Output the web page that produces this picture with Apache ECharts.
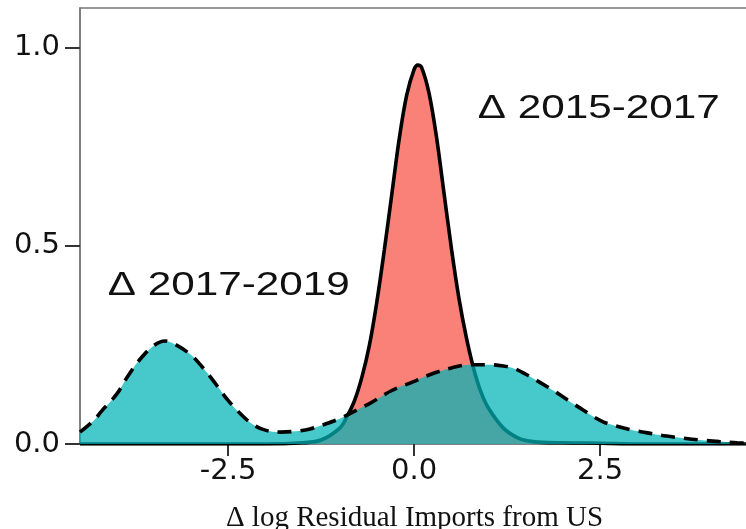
<!DOCTYPE html>
<html>
<head>
<meta charset="utf-8">
<script src="https://cdn.jsdelivr.net/npm/echarts@6/dist/echarts.min.js"></script>
<style>html,body{margin:0;padding:0;background:#fff;overflow:hidden}#c{width:746px;height:529px}</style>
</head>
<body>
<div id="c"></div>
<script>
// Density of Δ log residual imports, 2015-2017 (red)
const x1517 = [-4.49,-2.0,-1.5,-1.25,-1.0,-0.9,-0.8,-0.7,-0.6,-0.5,-0.4,-0.3,-0.2,-0.1,0.0,0.05,0.1,0.2,0.3,0.4,0.5,0.6,0.7,0.8,0.9,1.0,1.2,1.4,1.6,2.0,2.5,3.0,4.5];
const y1517 = [0.0,0.0,0.003,0.01,0.04,0.07,0.11,0.17,0.25,0.36,0.49,0.63,0.77,0.88,0.945,0.956,0.95,0.885,0.775,0.635,0.495,0.37,0.27,0.19,0.13,0.09,0.04,0.015,0.006,0.003,0.002,0.0,0.0];
// Density 2017-2019 (teal)
const x1719 = [-4.49,-4.3,-4.2,-4.0,-3.85,-3.7,-3.5,-3.35,-3.2,-3.0,-2.85,-2.7,-2.5,-2.3,-2.15,-2.0,-1.8,-1.6,-1.4,-1.2,-1.0,-0.85,-0.6,-0.3,0.0,0.2,0.5,0.75,1.0,1.2,1.35,1.5,1.65,1.8,1.96,2.1,2.27,2.4,2.54,2.7,2.94,3.2,3.39,3.6,3.84,4.1,4.34,4.5];
const y1719 = [0.03,0.06,0.083,0.125,0.17,0.21,0.248,0.26,0.25,0.225,0.195,0.16,0.11,0.07,0.047,0.035,0.03,0.032,0.038,0.05,0.064,0.078,0.102,0.135,0.158,0.174,0.192,0.2,0.2,0.197,0.19,0.176,0.16,0.143,0.124,0.106,0.086,0.07,0.056,0.046,0.035,0.026,0.02,0.015,0.01,0.006,0.003,0.002];
const xTicks = [-2.5, 0.0, 2.5];
const yTicks = [0.0, 0.5, 1.0];
const yTop = 1.1;
const labels = [
  {text: 'Δ 2015-2017', x: 0.856, y: 0.805},
  {text: 'Δ 2017-2019', x: -4.117, y: 0.356}
];

const chart = echarts.init(document.getElementById('c'), null, {renderer: 'canvas'});
const pair = (xs, ys) => xs.map((v, i) => [v, ys[i]]);
const XMIN = -4.49, XMAX = 4.5;
chart.setOption({
  animation: false,
  backgroundColor: '#fff',
  grid: {left: 80, top: 8, right: -3, bottom: 85, containLabel: false, outerBoundsMode: 'none',
    show: true, borderColor: '#777', borderWidth: 1.5, backgroundColor: 'transparent'},
  xAxis: {
    type: 'value', min: XMIN, max: XMAX, interval: 2.5,
    axisLine: {show: true, onZero: false, lineStyle: {color: '#777', width: 1.5}},
    axisTick: {show: true, length: 12, lineStyle: {color: '#333', width: 2}, customValues: xTicks},
    axisLabel: {customValues: xTicks, fontFamily: 'DejaVu Sans', fontSize: 29, color: '#111', margin: 13,
      formatter: v => v.toFixed(1)},
    splitLine: {show: false},
    name: 'Δ log Residual Imports from US', nameLocation: 'middle', nameGap: 60,
    nameTextStyle: {fontFamily: 'Liberation Serif', fontSize: 29, color: '#111'}
  },
  yAxis: {
    type: 'value', min: 0, max: yTop, interval: 0.5, position: 'left',
    axisLine: {show: true, onZero: false, lineStyle: {color: '#777', width: 1.5}},
    axisTick: {show: true, length: 15, lineStyle: {color: '#333', width: 2}, customValues: yTicks},
    axisLabel: {customValues: yTicks, fontFamily: 'DejaVu Sans', fontSize: 29, color: '#111', margin: 20,
      formatter: v => v.toFixed(1)},
    splitLine: {show: false}
  },
  series: [{
    type: 'line', name: '2015-2017', data: pair(x1517, y1517), smooth: 0.35, showSymbol: false,
    lineStyle: {color: '#000', width: 3.6},
    areaStyle: {color: '#F8766D', opacity: 0.92},
    z: 2
  }, {
    type: 'line', name: '2017-2019', data: pair(x1719, y1719), smooth: 0.35, showSymbol: false,
    lineStyle: {color: '#000', width: 3.6, type: [14, 9]},
    areaStyle: {color: '#00B3B7', opacity: 0.72},
    z: 3
  }]
});

const g = labels.map(l => {
  const p = chart.convertToPixel({xAxisIndex: 0, yAxisIndex: 0}, [l.x, l.y]);
  return {type: 'text', x: p[0], y: p[1], scaleX: 1.28, z: 10,
    style: {text: l.text, font: '33px "Liberation Sans"', fill: '#111', align: 'left', verticalAlign: 'bottom'}};
});
chart.setOption({graphic: g});
</script>
</body>
</html>
